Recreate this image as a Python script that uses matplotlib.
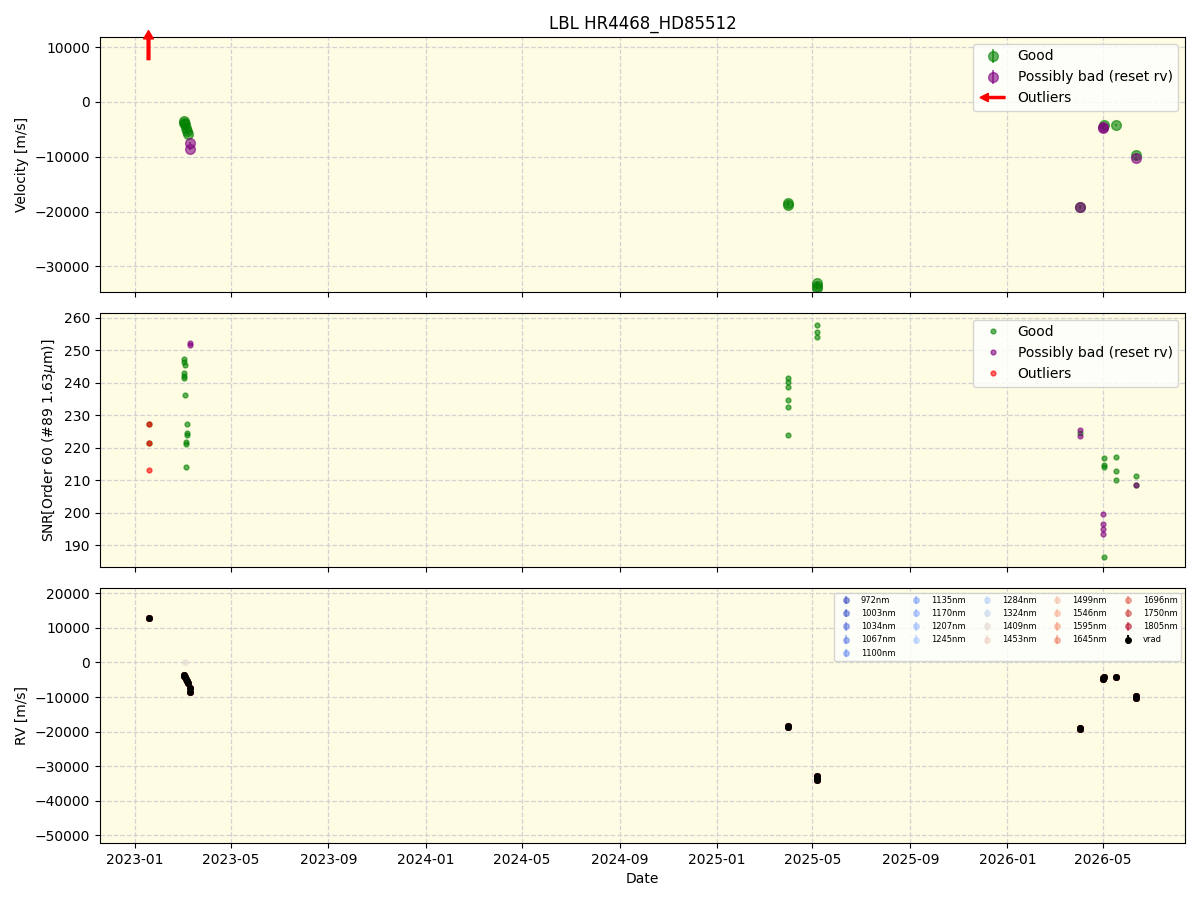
import matplotlib
matplotlib.use("Agg")
import matplotlib.pyplot as plt
import matplotlib.dates as mdates
import matplotlib.patches as mpatches
from matplotlib.legend_handler import HandlerPatch
import numpy as np
import pandas as pd

title = "LBL HR4468_HD85512"

# ---- Top panel: velocity ----
rv_good_dates = ["2023-03-03", "2023-03-04", "2023-03-05", "2023-03-06", "2023-03-07", "2023-03-08",
                 "2025-03-31", "2025-03-31", "2025-05-07", "2025-05-07", "2025-05-07",
                 "2026-04-02", "2026-05-02", "2026-05-17", "2026-06-11"]
rv_good_vals = [-3500, -3800, -4100, -4800, -5300, -5800,
                -18500, -18800, -33000, -33500, -33900,
                -19100, -4200, -4200, -9600]
rv_bad_dates = ["2023-03-11", "2023-03-11", "2026-04-02", "2026-05-01", "2026-05-01", "2026-06-11"]
rv_bad_vals = [-7500, -8500, -19200, -4700, -4500, -10300]
rv_out_dates = ["2023-01-18"]
rv_out_vals = [13000]
rv_err = 250

# ---- Middle panel: SNR ----
snr_good_dates = ["2023-01-18", "2023-01-18",
                  "2023-03-03", "2023-03-03", "2023-03-05", "2023-03-04", "2023-03-04", "2023-03-04",
                  "2023-03-05", "2023-03-07", "2023-03-07", "2023-03-07", "2023-03-06", "2023-03-06", "2023-03-06",
                  "2025-03-31", "2025-03-31", "2025-03-31", "2025-03-31", "2025-03-31", "2025-03-31",
                  "2025-05-07", "2025-05-07", "2025-05-07",
                  "2026-04-02",
                  "2026-05-02", "2026-05-02", "2026-05-02", "2026-05-02",
                  "2026-05-17", "2026-05-17", "2026-05-17",
                  "2026-06-11", "2026-06-11"]
snr_good_vals = [227.4, 221.3,
                 247.2, 246.2, 245.4, 242.9, 242.1, 241.3,
                 236.1, 227.2, 224.6, 223.9, 221.8, 221.0, 214.2,
                 241.4, 240.2, 238.6, 234.6, 232.4, 223.8,
                 257.7, 255.7, 254.0,
                 224.5,
                 216.7, 214.8, 214.0, 186.4,
                 217.0, 212.7, 210.2,
                 211.4, 208.4]
snr_bad_dates = ["2023-03-11", "2023-03-11", "2026-04-02", "2026-04-02",
                 "2026-05-01", "2026-05-01", "2026-05-01", "2026-05-01", "2026-06-11"]
snr_bad_vals = [252.2, 251.7, 225.4, 223.6, 199.7, 196.6, 195.0, 193.5, 208.4]
snr_out_dates = ["2023-01-18", "2023-01-18", "2023-01-18"]
snr_out_vals = [227.4, 221.3, 213.2]

# ---- Bottom panel: per-wavelength RV ----
wavelengths = [972, 1003, 1034, 1067, 1100, 1135, 1170, 1207, 1245, 1284, 1324, 1409,
               1453, 1499, 1546, 1595, 1645, 1696, 1750, 1805]
vrad_dates = rv_out_dates + rv_good_dates + rv_bad_dates
vrad_vals = rv_out_vals + rv_good_vals + rv_bad_vals
extra_wl = 1409
extra_wl_dates = ["2023-03-05"]
extra_wl_vals = [0]

xlim = ("2022-11-18", "2026-08-12")

bg = "#fefce2"

fig, axes = plt.subplots(3, 1, figsize=(12, 9), dpi=100, sharex=True)
fig.subplots_adjust(left=0.0833, right=0.9875, top=0.9589, bottom=0.0633, hspace=0.083)

def d(lst):
    return pd.to_datetime(lst)

for ax in axes:
    ax.set_facecolor(bg)
    ax.grid(True, linestyle="--", color="lightgray", linewidth=0.9)
    ax.set_axisbelow(True)

# Top
ax = axes[0]
ax.errorbar(d(rv_good_dates), rv_good_vals, yerr=rv_err, fmt="o", color="green", alpha=0.6, ms=7, label="Good")
ax.errorbar(d(rv_bad_dates), rv_bad_vals, yerr=rv_err, fmt="o", color="purple", alpha=0.6, ms=7,
            label="Possibly bad (reset rv)")
for dt, v in zip(d(rv_out_dates), rv_out_vals):
    ax.annotate("", xy=(dt, v), xytext=(dt, 7700), annotation_clip=False,
                arrowprops=dict(color="red", width=2, headwidth=7, headlength=6, shrink=0))
ax.set_ylim(-34580, 11830)
ax.set_ylabel("Velocity [m/s]")
ax.set_title(title)

def make_arrow(legend, orig_handle, xdescent, ydescent, width, height, fontsize):
    return mpatches.FancyArrow(width * 0.95, 0.5 * height - ydescent, -width * 0.9, 0,
                               length_includes_head=True, width=1.5, head_width=6,
                               head_length=6, color="red")

arrow_handle = mpatches.FancyArrow(0, 0, 1, 0, color="red")
h, l = ax.get_legend_handles_labels()
ax.legend(h + [arrow_handle], l + ["Outliers"], loc="upper right",
          handler_map={mpatches.FancyArrow: HandlerPatch(patch_func=make_arrow)})

# Middle
ax = axes[1]
ax.plot(d(snr_good_dates), snr_good_vals, "o", color="green", alpha=0.6, ms=3.5, label="Good")
ax.plot(d(snr_bad_dates), snr_bad_vals, "o", color="purple", alpha=0.6, ms=3.5, label="Possibly bad (reset rv)")
ax.plot(d(snr_out_dates), snr_out_vals, "o", color="red", alpha=0.6, ms=3.5, label="Outliers")
ax.set_ylim(183.2, 261.5)
ax.set_ylabel(r"SNR[Order 60 (#89 1.63$\mu$m)]")
ax.legend(loc="upper right")

# Bottom
ax = axes[2]
cmap = plt.get_cmap("coolwarm")
wmin, wmax = min(wavelengths), max(wavelengths)
for wl in wavelengths:
    col = cmap((wl - wmin) / (wmax - wmin))
    dates = vrad_dates
    vals = vrad_vals
    if wl == extra_wl:
        dates = vrad_dates + extra_wl_dates
        vals = vrad_vals + extra_wl_vals
    ax.errorbar(d(dates), vals, yerr=300, fmt="o", color=col, alpha=0.5, ms=4, label=f"{wl}nm")
ax.errorbar(d(vrad_dates), vrad_vals, yerr=500, fmt="o", color="black", ms=4, label="vrad")
ax.set_ylim(-52300, 21450)
ax.set_ylabel("RV [m/s]")
ax.set_xlabel("Date")
ax.legend(loc="upper right", ncol=5, fontsize=6, columnspacing=1.5)

ax.set_xlim(pd.to_datetime(xlim[0]), pd.to_datetime(xlim[1]))
ax.xaxis.set_major_locator(mdates.MonthLocator(bymonth=[1, 5, 9]))
ax.xaxis.set_major_formatter(mdates.DateFormatter("%Y-%m"))

fig.savefig("out.png", dpi=100)
